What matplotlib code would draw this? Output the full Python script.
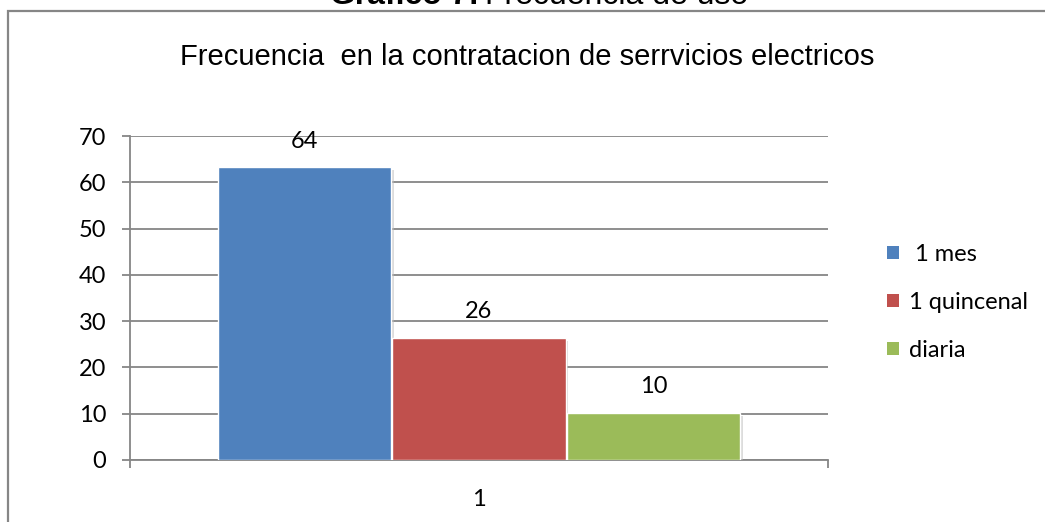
import matplotlib
matplotlib.use("Agg")
import matplotlib.pyplot as plt
from matplotlib.patches import Rectangle, Patch
import matplotlib.patheffects as pe

# chart data
series = [" 1 mes", "1 quincenal", "diaria"]
values = [63.3, 26.4, 10.2]
value_labels = ["64", "26", "10"]
colors = ["#4F81BD", "#C0504D", "#9BBB59"]
category = "1"
yticks = [0, 10, 20, 30, 40, 50, 60, 70]

W, H = 1045, 522
fig = plt.figure(figsize=(W / 100, H / 100), dpi=100)
fig.patch.set_facecolor("white")

grey = "#868686"
body_font = ["Lato", "DejaVu Sans"]
head_font = ["Liberation Sans", "DejaVu Sans"]
fs = 17

# outer chart frame (runs off the right and bottom edge)
fig.patches.append(Rectangle((8 / W, -0.05), 1.1, 1 - 11 / H + 0.05,
                             transform=fig.transFigure, fill=False,
                             edgecolor=grey, linewidth=1.6))

# document caption, mostly cut off at the top
cap1 = fig.text(330 / W, 1 - 4.5 / H, "Gráfico 7:", fontsize=23, fontweight="bold",
                family=head_font, ha="left", va="baseline")
fig.canvas.draw()
ext = cap1.get_window_extent()
fig.text(ext.x1 / W + 6 / W, 1 - 4.5 / H, "Frecuencia de uso", fontsize=23,
         family=head_font, ha="left", va="baseline")

fig.text(527 / W, 1 - 65 / H, "Frecuencia  en la contratacion de serrvicios electricos",
         fontsize=21, family=head_font, ha="center", va="baseline")

ax = fig.add_axes([130 / W, 1 - 460 / H, 698 / W, 324 / H])
ax.set_xlim(0.5, 1.5)
ax.set_ylim(0, 70)

width = 0.248
offsets = [-0.25, 0.0, 0.25]
shadow = [pe.SimplePatchShadow(offset=(2, -2), shadow_rgbFace="#bbbbbb", alpha=0.5),
          pe.Normal()]
handles = []
for off, v, lab, c, name in zip(offsets, values, value_labels, colors, series):
    b = ax.bar(1 + off, v, width=width, color=c, edgecolor="white",
               linewidth=1.0, zorder=3)
    b[0].set_path_effects(shadow)
    ax.annotate(lab, (1 + off, v), xytext=(0, 14), textcoords="offset points",
                ha="center", va="baseline", fontsize=fs, family=body_font,
                zorder=4)
    handles.append(Patch(facecolor=c, edgecolor="none", label=name))

ax.set_yticks(yticks)
ax.yaxis.grid(True, color=grey, linewidth=1.3, zorder=0)
ax.set_axisbelow(True)
for s in ["top", "right"]:
    ax.spines[s].set_visible(False)
ax.spines["left"].set_color(grey)
ax.spines["bottom"].set_color(grey)
ax.spines["left"].set_linewidth(1.3)
ax.spines["bottom"].set_linewidth(1.3)

ax.tick_params(axis="y", length=6, width=1.3, color=grey, pad=11,
               labelsize=fs)
ax.set_xticks([0.5, 1.5])
ax.set_xticklabels(["", ""])
ax.tick_params(axis="x", which="major", length=6, width=1.3, color=grey)
ax.set_xticks([1.0], minor=True)
ax.set_xticklabels([category], minor=True)
ax.tick_params(axis="x", which="minor", length=0, pad=21, labelsize=fs)
for t in ax.get_yticklabels() + ax.get_xticklabels(minor=True):
    t.set_family(body_font)

fig.legend(handles=handles, loc="upper left",
           bbox_to_anchor=(875 / W, 1 - 232 / H), frameon=False,
           prop={"family": body_font, "size": fs},
           handlelength=0.5, handleheight=0.5, handletextpad=0.45,
           labelspacing=1.15, borderpad=0)

fig.savefig("out.png", dpi=100)
